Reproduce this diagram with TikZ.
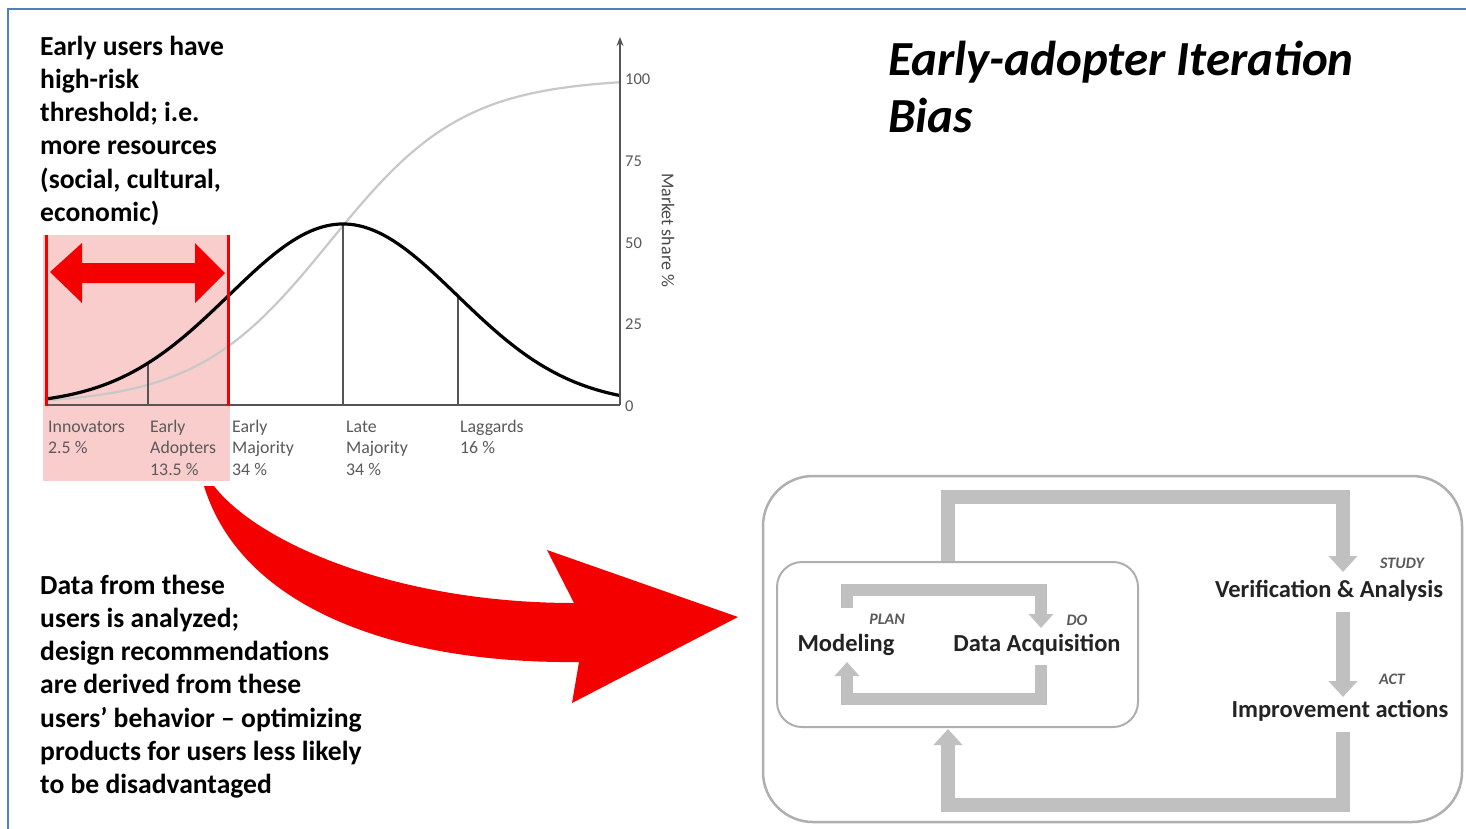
\documentclass[tikz,border=0pt]{standalone}
\usepackage{fontspec}
\setmainfont{Carlito}
\usetikzlibrary{arrows.meta}
\definecolor{frameblue}{RGB}{79,129,189}
\definecolor{pinkfill}{RGB}{250,205,205}
\definecolor{redA}{RGB}{245,0,0}
\definecolor{pdcagray}{RGB}{192,192,192}
\definecolor{boxgray}{RGB}{175,175,175}
\definecolor{labgray}{RGB}{90,90,90}
\definecolor{axisgray}{RGB}{85,85,85}
\definecolor{scurve}{RGB}{200,200,200}
\definecolor{pdtext}{RGB}{35,35,35}
\tikzset{
  bigtxt/.style={anchor=base west, inner sep=0pt, font=\bfseries\fontsize{27.6}{33}\selectfont},
  titletxt/.style={anchor=base west, inner sep=0pt, font=\bfseries\itshape\fontsize{49}{58}\selectfont},
  lab/.style={anchor=base west, inner sep=0pt, text=labgray, font=\fontsize{17.8}{20}\selectfont},
  tick/.style={anchor=base west, inner sep=0pt, text=labgray, font=\fontsize{16.5}{19}\selectfont},
  pdtxt/.style={inner sep=0pt, text=pdtext, font=\bfseries\fontsize{24.5}{28}\selectfont},
  pdsmall/.style={inner sep=0pt, text=labgray, font=\bfseries\itshape\fontsize{16}{18}\selectfont},
  garrow/.style={draw=pdcagray, line width=14pt, -{Triangle[width=28pt,length=16pt]}},
  garrowi/.style={draw=pdcagray, line width=12pt, -{Triangle[width=24pt,length=14pt]}},
}
\begin{document}
\begin{tikzpicture}[x=1pt,y=-1pt]
\useasboundingbox (0,0) rectangle (1466,828);
\fill[white] (0,0) rectangle (1466,828);
% frame
\draw[frameblue, line width=2.5pt] (8,830) -- (8,9) -- (1470,9);

% title
\node[titletxt] (t1) at (888,75) {Early-adopter Iteration};
\node[titletxt] (t2) at (888,132) {Bias};

% top-left text
\foreach \t [count=\i from 0] in {Early users have, high-risk, {threshold; i.e.}, more resources, {(social, cultural,}, economic)}
  \node[bigtxt] (ta\i) at (40,{55+33.3*\i}) {\t};

% bottom-left text
\foreach \t [count=\i from 0] in {Data from these, users is analyzed;, design recommendations, are derived from these, users’ behavior – optimizing, products for users less likely, to be disadvantaged}
  \node[bigtxt] (tb\i) at (40,{594+33.3*\i}) {\t};

% pink highlight
\fill[pinkfill] (43,235) rectangle (230,481);

% curves
\draw[scurve, line width=2.2pt] plot[domain=45:620, samples=120] (\x, {405-327/(1+exp(-1.702*(\x-330)/114))});
\draw[axisgray, line width=1.1pt] (148,405) -- (148,{405-181*exp(-0.5*((148-343)/114)*((148-343)/114))});
\draw[axisgray, line width=1.1pt] (343,405) -- (343,224);
\draw[axisgray, line width=1.1pt] (458,405) -- (458,{405-181*exp(-0.5*((458-343)/114)*((458-343)/114))});
\draw[black, line width=3.2pt] plot[domain=45:620, samples=150] (\x, {405-181*exp(-0.5*((\x-343)/114)*((\x-343)/114))});

% axes
\draw[axisgray, line width=1.6pt] (45,405) -- (620,405);
\draw[axisgray, line width=1.6pt, -{Stealth[length=9pt,width=7pt]}] (620,405) -- (620,37);
\node[tick] (k100) at (625,84) {100};
\node[tick] (k75) at (625,166) {75};
\node[tick] (k50) at (625,248) {50};
\node[tick] (k25) at (625,329) {25};
\node[tick] (k0) at (625,411) {0};
\node[rotate=-90, inner sep=0pt, text=labgray!80!black, font=\fontsize{18}{20}\selectfont] (ms) at (668,230) {Market share \%};

% category labels
\node[lab] (l1a) at (48,432) {Innovators};
\node[lab] (l1b) at (48,453) {2.5 \%};
\node[lab] (l2a) at (150,432) {Early};
\node[lab] (l2b) at (150,453) {Adopters};
\node[lab] (l2c) at (150,475) {13.5 \%};
\node[lab] (l3a) at (232,432) {Early};
\node[lab] (l3b) at (232,453) {Majority};
\node[lab] (l3c) at (232,475) {34 \%};
\node[lab] (l4a) at (346,432) {Late};
\node[lab] (l4b) at (346,453) {Majority};
\node[lab] (l4c) at (346,475) {34 \%};
\node[lab] (l5a) at (460,432) {Laggards};
\node[lab] (l5b) at (460,453) {16 \%};

% red bounds and double arrow
\draw[redA, line width=3pt] (46,235) -- (46,406);
\draw[redA, line width=3pt] (228,235) -- (228,406);
\fill[redA] (50,272) -- (82,243) -- (82,263) -- (195,263) -- (195,243) -- (225,273)
  -- (195,303) -- (195,283) -- (82,283) -- (82,303) -- cycle;

% big curved red arrow
\fill[redA] (204,486) -- (214,486) .. controls (260,545) and (400,603) .. (574,603)
  -- (547,550) -- (738,617) -- (572,703) -- (579,662)
  .. controls (400,664) and (242,610) .. (204,486) -- cycle;

% PDCA
\node[draw=boxgray, line width=2.5pt, rounded corners=50pt, minimum width=699pt, minimum height=346pt] (outer) at (1112.5,649) {};
\node[draw=boxgray, line width=2pt, rounded corners=25pt, minimum width=361pt, minimum height=165pt] (inner) at (957.5,644.5) {};

\node[pdsmall] (study) at (1402,563) {STUDY};
\node[pdtxt] (verif) at (1329,591) {Verification \& Analysis};
\node[pdsmall] (act) at (1392,679) {ACT};
\node[pdtxt] (impr) at (1340,711) {Improvement actions};
\node[pdsmall] (plan) at (887,619) {PLAN};
\node[pdsmall] (do) at (1077,620) {DO};
\node[pdtxt] (model) at (846,645) {Modeling};
\node[pdtxt] (daq) at (1037,645) {Data Acquisition};

\coordinate (c1) at (948,497);
\coordinate (c2) at (1343,497);
\coordinate (c3) at (1343,805);
\coordinate (c4) at (948,805);
\draw[garrow] (inner.north -| c1) -- (c1) -- (c2) -- (1343,572);
\draw[garrow] (1343,612) -- (1343,697);
\draw[garrow] (1343,732) -- (c3) -- (c4) -- (948,729);
\draw[garrowi] (847,608) -- (847,590) -- (1041,590) -- (1041,628);
\draw[garrowi] (1041,665) -- (1041,699) -- (847,699) -- (847,662);
\end{tikzpicture}
\end{document}
